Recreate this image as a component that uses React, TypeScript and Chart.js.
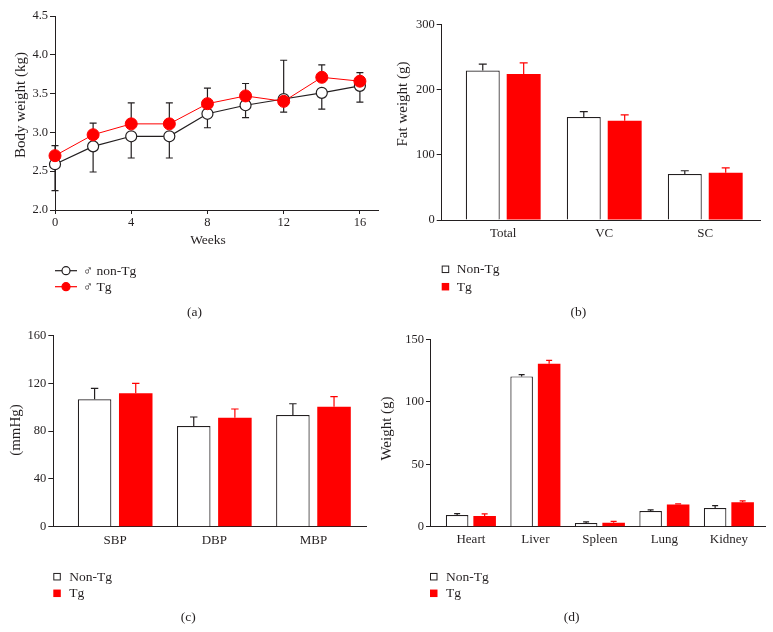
import React, { useEffect, useRef } from 'react';
import { Chart, registerables } from 'chart.js';

Chart.register(...registerables);

const SERIF = "'Liberation Serif', 'Times New Roman', Times, serif";
const INK = '#231f20';
const RED = '#ff0000';

// ---------- (a) Body weight ----------
const weeks = [0, 2, 4, 6, 8, 10, 12, 14, 16];
const weekTicks = [0, 4, 8, 12, 16];
const bodyTicks = [2.0, 2.5, 3.0, 3.5, 4.0, 4.5];
const nonTgBody = [2.59, 2.82, 2.95, 2.95, 3.24, 3.35, 3.43, 3.51, 3.6];
const nonTgBodyErrUp = [0, 0, 0, 0, 0, 0, 0.5, 0, 0];
const nonTgBodyErrDown = [0.34, 0.33, 0.28, 0.28, 0.18, 0.16, 0, 0.21, 0.21];
const tgBody = [2.7, 2.97, 3.11, 3.11, 3.37, 3.47, 3.4, 3.71, 3.66];
const tgBodyErrUp = [0.13, 0.15, 0.27, 0.27, 0.2, 0.16, 0, 0.16, 0.11];
const tgBodyErrDown = [0, 0, 0, 0, 0, 0, 0.14, 0, 0];

// ---------- (b) Fat weight ----------
const fatCats = ['Total', 'VC', 'SC'];
const fatTicks = [0, 100, 200, 300];
const nonTgFat = [229, 158, 70.5];
const nonTgFatErr = [10, 8, 5];
const tgFat = [224, 152, 72.5];
const tgFatErr = [17, 9, 7.5];

// ---------- (c) Blood pressure ----------
const bpCats = ['SBP', 'DBP', 'MBP'];
const bpTicks = [0, 40, 80, 120, 160];
const nonTgBP = [106.7, 84.3, 93.5];
const nonTgBPErr = [9.2, 7.6, 9.5];
const tgBP = [111.7, 91.3, 100.5];
const tgBPErr = [8.3, 7.3, 8.4];

// ---------- (d) Organ weight ----------
const organCats = ['Heart', 'Liver', 'Spleen', 'Lung', 'Kidney'];
const organTicks = [0, 50, 100, 150];
const nonTgOrgan = [9.4, 120.3, 3.0, 12.6, 15.0];
const nonTgOrganErr = [1.1, 1.4, 0.8, 0.8, 1.9];
const tgOrgan = [8.6, 130.5, 3.2, 17.7, 19.6];
const tgOrganErr = [1.6, 2.7, 1.1, 0.5, 1.0];

const X_H = 30;

type Box = { x: number; y: number; w: number; h: number; left: number; right: number; top: number; bottom: number };
type TextItem = { text: string; x: number; y: number; size: number; rotate?: boolean };
type LegendItem = { kind: 'line' | 'box'; x: number; y: number; tx: number; label: string; color: string; fill: string };

const errorBarPlugin = {
  id: 'errorBars',
  beforeDatasetsDraw(chart: any) {
    const ctx = chart.ctx;
    const ys = chart.scales.y;
    chart.data.datasets.forEach((ds: any, di: number) => {
      const meta = chart.getDatasetMeta(di);
      if (!ds.errUp && !ds.errDown) return;
      ctx.save();
      ctx.strokeStyle = ds.errColor || INK;
      ctx.lineWidth = 1.2;
      meta.data.forEach((el: any, i: number) => {
        const v = ds.data[i].y;
        const x = el.x;
        const y0 = ys.getPixelForValue(v);
        const ends: number[] = [];
        if (ds.errUp && ds.errUp[i]) ends.push(ys.getPixelForValue(v + ds.errUp[i]));
        if (ds.errDown && ds.errDown[i]) ends.push(ys.getPixelForValue(v - ds.errDown[i]));
        ends.forEach((ye) => {
          ctx.beginPath();
          ctx.moveTo(x, y0);
          ctx.lineTo(x, ye);
          ctx.moveTo(x - ds.capHalf, ye);
          ctx.lineTo(x + ds.capHalf, ye);
          ctx.stroke();
        });
      });
      ctx.restore();
    });
  },
};

function overlayPlugin(texts: TextItem[], legend: LegendItem[]) {
  return {
    id: 'overlay',
    afterDraw(chart: any) {
      const ctx = chart.ctx;
      ctx.save();
      ctx.fillStyle = INK;
      ctx.textBaseline = 'middle';
      texts.forEach((t) => {
        ctx.save();
        ctx.font = `${t.size}px ${SERIF}`;
        ctx.textAlign = 'center';
        ctx.translate(t.x, t.y);
        if (t.rotate) ctx.rotate(-Math.PI / 2);
        ctx.fillStyle = INK;
        ctx.fillText(t.text, 0, 0);
        ctx.restore();
      });
      legend.forEach((it) => {
        ctx.save();
        if (it.kind === 'line') {
          ctx.strokeStyle = it.color;
          ctx.lineWidth = 1.2;
          ctx.beginPath();
          ctx.moveTo(it.x, it.y);
          ctx.lineTo(it.x + 22, it.y);
          ctx.stroke();
          ctx.beginPath();
          ctx.arc(it.x + 11, it.y, 4, 0, Math.PI * 2);
          ctx.fillStyle = it.fill;
          ctx.fill();
          ctx.stroke();
        } else {
          ctx.fillStyle = it.fill;
          ctx.fillRect(it.x, it.y - 3.75, 7.5, 7.5);
          if (it.fill === '#ffffff') {
            ctx.strokeStyle = it.color;
            ctx.lineWidth = 1;
            ctx.strokeRect(it.x + 0.5, it.y - 3.25, 6.5, 6.5);
          }
        }
        ctx.fillStyle = INK;
        ctx.font = `13.5px ${SERIF}`;
        ctx.textAlign = 'left';
        ctx.textBaseline = 'middle';
        ctx.fillText(it.label, it.tx, it.y + 0.5);
        ctx.restore();
      });
      ctx.restore();
    },
  };
}

const BOX_A: Box = { x: 0, y: 0, w: 386, h: 332, left: 55, right: 378, top: 16, bottom: 210 };
const BOX_B: Box = { x: 370, y: 0, w: 403, h: 332, left: 71.7, right: 390, top: 24.3, bottom: 220 };
const BOX_C: Box = { x: 0, y: 316, w: 386, h: 316, left: 53.3, right: 366.7, top: 19.7, bottom: 210.7 };
const BOX_D: Box = { x: 370, y: 316, w: 403, h: 316, left: 60, right: 395, top: 23.3, bottom: 210.7 };

function layoutFor(b: Box) {
  return { padding: { left: 0, top: b.top, right: b.w - b.right, bottom: b.h - b.bottom - X_H } };
}

function yScale(b: Box, min: number, max: number, ticks: number[], fmt: (v: number) => string, tickLen: number) {
  return {
    type: 'linear',
    min,
    max,
    afterBuildTicks: (s: any) => {
      s.ticks = ticks.map((v) => ({ value: v }));
    },
    afterFit: (s: any) => {
      s.width = b.left;
    },
    grid: { display: true, drawOnChartArea: false, drawTicks: true, tickLength: tickLen, color: INK, lineWidth: 1 },
    border: { display: true, color: INK, width: 1 },
    ticks: { padding: 2, color: INK, font: { family: SERIF, size: 12.5 }, callback: (v: any) => fmt(Number(v)) },
  };
}

function barConfig(
  b: Box,
  cats: string[],
  xmin: number,
  xmax: number,
  yTicks: number[],
  nonTg: number[],
  nonTgErr: number[],
  tg: number[],
  tgErr: number[],
  catPct: number,
  barPct: number,
  capHalf: number,
  labelPad: number,
  tickLen: number,
  texts: TextItem[],
  legend: LegendItem[]
): any {
  return {
    type: 'bar',
    data: {
      datasets: [
        {
          label: 'Non-Tg',
          data: cats.map((_, i) => ({ x: i, y: nonTg[i] })),
          backgroundColor: '#ffffff',
          borderColor: INK,
          borderWidth: 1.2,
          categoryPercentage: catPct,
          barPercentage: barPct,
          errUp: nonTgErr,
          errColor: INK,
          capHalf,
        },
        {
          label: 'Tg',
          data: cats.map((_, i) => ({ x: i, y: tg[i] })),
          backgroundColor: RED,
          borderColor: RED,
          borderWidth: 0,
          categoryPercentage: catPct,
          barPercentage: barPct,
          errUp: tgErr,
          errColor: RED,
          capHalf,
        },
      ],
    },
    options: {
      responsive: false,
      animation: false,
      events: [],
      layout: layoutFor(b),
      plugins: { legend: { display: false }, tooltip: { enabled: false } },
      scales: {
        x: {
          type: 'linear',
          min: xmin,
          max: xmax,
          offset: false,
          afterBuildTicks: (s: any) => {
            s.ticks = cats.map((_, i) => ({ value: i }));
          },
          afterFit: (s: any) => {
            s.height = X_H;
          },
          grid: { display: false, drawTicks: false },
          border: { display: true, color: INK, width: 1 },
          ticks: {
            padding: labelPad,
            autoSkip: false,
            maxRotation: 0,
            color: INK,
            font: { family: SERIF, size: 13 },
            callback: (v: any) => cats[Math.round(Number(v))] ?? '',
          },
        },
        y: yScale(b, yTicks[0], yTicks[yTicks.length - 1], yTicks, (v) => String(v), tickLen),
      },
    },
    plugins: [errorBarPlugin, overlayPlugin(texts, legend)],
  };
}

function configA(): any {
  const b = BOX_A;
  return {
    type: 'line',
    data: {
      datasets: [
        {
          label: '♂ non-Tg',
          data: weeks.map((w, i) => ({ x: w, y: nonTgBody[i] })),
          borderColor: INK,
          borderWidth: 1.2,
          pointRadius: 5.5,
          pointBorderWidth: 1.2,
          pointBackgroundColor: '#ffffff',
          pointBorderColor: INK,
          order: 2,
          clip: false,
          errUp: nonTgBodyErrUp,
          errDown: nonTgBodyErrDown,
          errColor: INK,
          capHalf: 3.5,
        },
        {
          label: '♂ Tg',
          data: weeks.map((w, i) => ({ x: w, y: tgBody[i] })),
          borderColor: RED,
          borderWidth: 1,
          pointRadius: 6,
          pointBorderWidth: 1,
          pointBackgroundColor: RED,
          pointBorderColor: RED,
          order: 1,
          clip: false,
          errUp: tgBodyErrUp,
          errDown: tgBodyErrDown,
          errColor: INK,
          capHalf: 3.5,
        },
      ],
    },
    options: {
      responsive: false,
      animation: false,
      events: [],
      layout: layoutFor(b),
      plugins: { legend: { display: false }, tooltip: { enabled: false } },
      scales: {
        x: {
          type: 'linear',
          min: 0,
          max: 16.95,
          afterBuildTicks: (s: any) => {
            s.ticks = weekTicks.map((v) => ({ value: v }));
          },
          afterFit: (s: any) => {
            s.height = X_H;
          },
          grid: { display: true, drawOnChartArea: false, drawTicks: true, tickLength: 4, color: INK, lineWidth: 1 },
          border: { display: true, color: INK, width: 1 },
          ticks: { padding: 1, maxRotation: 0, color: INK, font: { family: SERIF, size: 12.5 } },
        },
        y: yScale(b, 2.0, 4.5, bodyTicks, (v) => v.toFixed(1), 5),
      },
    },
    plugins: [
      errorBarPlugin,
      overlayPlugin(
        [
          { text: 'Body weight (kg)', x: 21, y: 105, size: 15, rotate: true },
          { text: 'Weeks', x: 208, y: 240, size: 13.5 },
          { text: '(a)', x: 194.5, y: 312, size: 13.5 },
        ],
        [
          { kind: 'line', x: 55, y: 270.7, tx: 83, label: '♂ non-Tg', color: INK, fill: '#ffffff' },
          { kind: 'line', x: 55, y: 286.7, tx: 83, label: '♂ Tg', color: RED, fill: RED },
        ]
      ),
    ],
  };
}

function configB(): any {
  const b = BOX_B;
  return barConfig(
    b, fatCats, -0.609, 2.542, fatTicks, nonTgFat, nonTgFatErr, tgFat, tgFatErr, 0.81, 0.83, 4, 6, 5,
    [
      { text: 'Fat weight (g)', x: 33.5, y: 104, size: 15, rotate: true },
      { text: '(b)', x: 208.3, y: 312, size: 13.5 },
    ],
    [
      { kind: 'box', x: 71.7, y: 269.3, tx: 86.7, label: 'Non-Tg', color: INK, fill: '#ffffff' },
      { kind: 'box', x: 71.7, y: 286.7, tx: 86.7, label: 'Tg', color: RED, fill: RED },
    ]
  );
}

function configC(): any {
  const b = BOX_C;
  return barConfig(
    b, bpCats, -0.624, 2.537, bpTicks, nonTgBP, nonTgBPErr, tgBP, tgBPErr, 0.83, 0.815, 3.7, 6, 5,
    [
      { text: '(mmHg)', x: 15.8, y: 114, size: 15, rotate: true },
      { text: '(c)', x: 188.3, y: 301.7, size: 13.5 },
    ],
    [
      { kind: 'box', x: 53.3, y: 260.7, tx: 69.3, label: 'Non-Tg', color: INK, fill: '#ffffff' },
      { kind: 'box', x: 53.3, y: 277.3, tx: 69.3, label: 'Tg', color: RED, fill: RED },
    ]
  );
}

function configD(): any {
  const b = BOX_D;
  return barConfig(
    b, organCats, -0.634, 4.56, organTicks, nonTgOrgan, nonTgOrganErr, tgOrgan, tgOrganErr, 0.853, 0.82, 3, 5, 4,
    [
      { text: 'Weight (g)', x: 17, y: 112.5, size: 15, rotate: true },
      { text: '(d)', x: 201.7, y: 301.7, size: 13.5 },
    ],
    [
      { kind: 'box', x: 60, y: 260.7, tx: 76, label: 'Non-Tg', color: INK, fill: '#ffffff' },
      { kind: 'box', x: 60, y: 277.3, tx: 76, label: 'Tg', color: RED, fill: RED },
    ]
  );
}

const PANELS: { box: Box; make: () => any }[] = [
  { box: BOX_A, make: configA },
  { box: BOX_B, make: configB },
  { box: BOX_C, make: configC },
  { box: BOX_D, make: configD },
];

export default function App() {
  const refs = [useRef<HTMLCanvasElement>(null), useRef<HTMLCanvasElement>(null), useRef<HTMLCanvasElement>(null), useRef<HTMLCanvasElement>(null)];

  useEffect(() => {
    const charts: Chart[] = [];
    PANELS.forEach((p, i) => {
      const el = refs[i].current;
      if (el) charts.push(new Chart(el, p.make()));
    });
    return () => charts.forEach((c) => c.destroy());
  }, []);

  return (
    <div style={{ position: 'absolute', left: 0, top: 0, width: 773, height: 632, background: '#ffffff', overflow: 'hidden' }}>
      {PANELS.map((p, i) => (
        <canvas
          key={i}
          ref={refs[i]}
          width={p.box.w}
          height={p.box.h}
          style={{ position: 'absolute', left: p.box.x, top: p.box.y, width: p.box.w, height: p.box.h }}
        />
      ))}
    </div>
  );
}
